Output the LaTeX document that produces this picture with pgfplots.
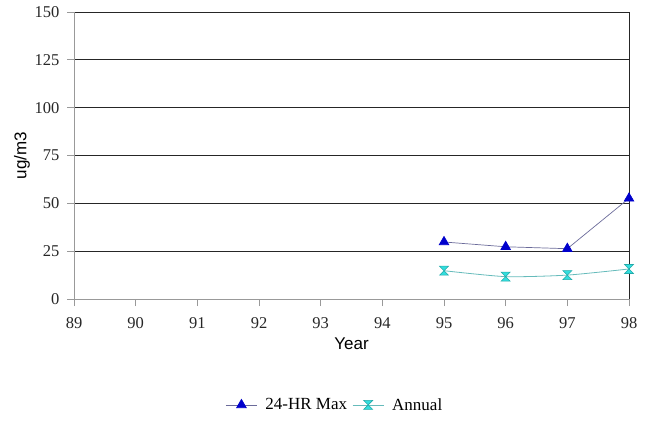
\documentclass[border=0pt]{standalone}
\usepackage{fontspec}
\setmainfont{Liberation Serif}
\newfontfamily\arial{Liberation Sans}
\usepackage{pgfplots}
\pgfplotsset{compat=1.18}
\definecolor{maxline}{HTML}{6B6B9A}
\definecolor{maxmark}{HTML}{0000CC}
\definecolor{annline}{HTML}{66BBBB}
\definecolor{annmark}{HTML}{33DDDD}
\definecolor{annedge}{HTML}{22AAAA}
\pgfdeclareplotmark{hourglass}{%
 \pgfpathmoveto{\pgfqpoint{-\pgfplotmarksize}{\pgfplotmarksize}}%
 \pgfpathlineto{\pgfqpoint{\pgfplotmarksize}{\pgfplotmarksize}}%
 \pgfpathlineto{\pgfqpoint{-\pgfplotmarksize}{-\pgfplotmarksize}}%
 \pgfpathlineto{\pgfqpoint{\pgfplotmarksize}{-\pgfplotmarksize}}%
 \pgfpathclose
 \pgfusepathqfillstroke}
\begin{document}
\begin{tikzpicture}
\begin{axis}[
  name=ax,
  scale only axis,
  width=555pt, height=287pt,
  xmin=89, xmax=98, ymin=0, ymax=150,
  xtick={89,...,98},
  ytick={0,25,...,150},
  axis x line=bottom, axis y line=left,
  axis line style={draw=gray!80, line width=0.8pt, -},
  ymajorgrids, grid style={black!85, line width=0.7pt},
  extra x ticks={98}, extra x tick labels={},
  extra x tick style={grid=major, major grid style={black!85,line width=0.8pt}},
  tick style={gray!80, line width=0.7pt},
  tick align=outside,
  major tick length=7pt,
  xticklabel style={yshift=-8pt},
  yticklabel style={xshift=-4pt},
  /pgf/number format/assume math mode=true,
  ticklabel style={font=\fontsize{16.5}{19}\selectfont, text=black!85},
  xlabel={Year}, ylabel={ug/m3},
  label style={font=\arial\fontsize{17}{20}\selectfont},
  xlabel style={at={(axis description cs:0.5,0)}, anchor=center, yshift=-45pt},
  ylabel style={at={(axis description cs:-0.0937,0.5)}, anchor=center},
  legend style={draw=none, at={(0.47,-0.369)}, anchor=center, legend columns=2,
    font=\fontsize{17}{20}\selectfont,
    /tikz/every odd column/.append style={column sep=6pt},
    /tikz/every even column/.append style={column sep=3pt}},
  legend image code/.code={\draw[mark repeat=2,mark phase=2] plot coordinates {(0cm,0cm) (0.55cm,0cm) (1.1cm,0cm)};},
]
\addplot[color=maxline, line width=0.7pt, mark=triangle*, mark size=5.5pt,
  mark options={fill=maxmark, draw=maxmark}]
  coordinates {(95,29.8) (96,27.3) (97,26.3) (98,52.6)};
\addlegendentry{24-HR Max}
\addplot[color=annline, line width=0.8pt, smooth, tension=0.4, mark=hourglass, mark size=4.5pt,
  mark options={fill=annmark, draw=annedge, line width=0.6pt}]
  coordinates {(95,14.8) (96,11.7) (97,12.5) (98,15.7)};
\addlegendentry{Annual}
\end{axis}
\pgfresetboundingbox
\path[use as bounding box] ([xshift=-74pt,yshift=-125pt]ax.south west) rectangle ([xshift=18pt,yshift=12pt]ax.north east);
\end{tikzpicture}
\end{document}
